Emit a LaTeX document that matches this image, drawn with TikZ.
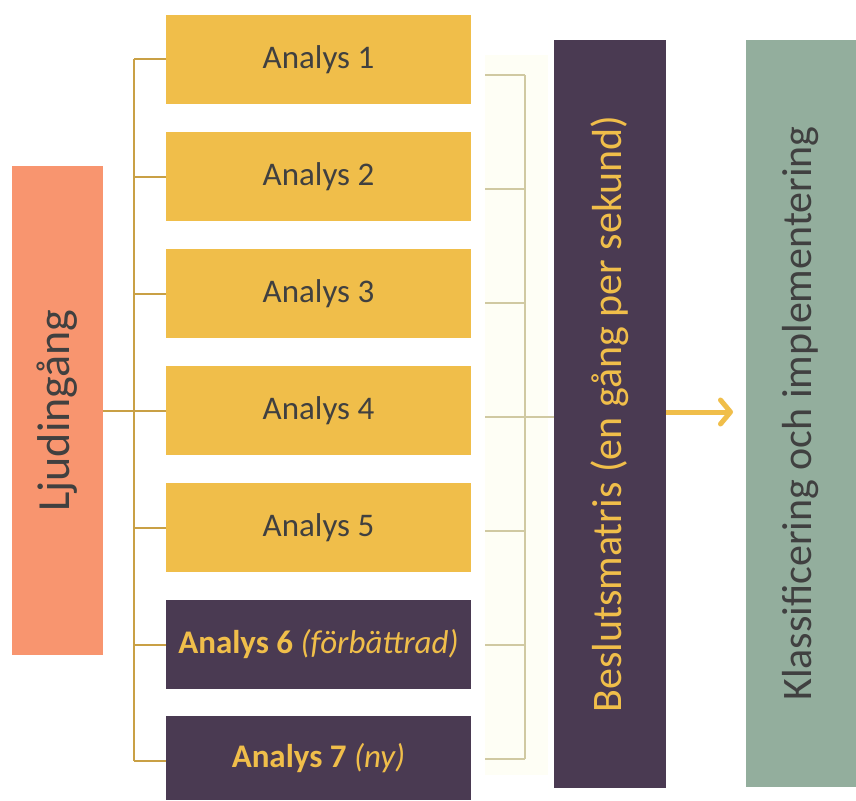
\documentclass[tikz,border=0pt]{standalone}
\usepackage{fontspec}
\setmainfont{Carlito}
\usetikzlibrary{arrows.meta}
\definecolor{yel}{HTML}{F0BE4A}
\definecolor{pur}{HTML}{4A3A52}
\definecolor{sal}{HTML}{F8956F}
\definecolor{sage}{HTML}{93AE9D}
\definecolor{txt}{HTML}{404040}
\definecolor{brk}{HTML}{C9A045}
\definecolor{faint}{HTML}{D0C9A2}
\definecolor{glow}{HTML}{FEFEF5}
\begin{document}
\begin{tikzpicture}[x=1pt,y=-1pt,
  box/.style={draw=none,inner sep=0pt,outer sep=0pt,minimum width=305pt,minimum height=89pt},
  ybox/.style={box,fill=yel,text=txt,font=\fontsize{33}{38}\selectfont},
  pbox/.style={box,fill=pur,text=yel,font=\bfseries\fontsize{33}{38}\selectfont},
  vbox/.style={draw=none,inner sep=0pt,outer sep=0pt,rotate=90},
  bracket/.style={draw=brk,line width=2pt},
  fbracket/.style={draw=faint,line width=2pt},
  arr/.style={draw=yel,line width=5pt,-{Straight Barb[length=10pt,width=24pt,line cap=round,line join=round]}}
]
\useasboundingbox (0,0) rectangle (856,800);
\fill[white] (0,0) rectangle (856,800);

% faint glow behind right bracket
\fill[glow] (485,55) rectangle (548,775);

% left column
\node[vbox,fill=sal,text=txt,minimum width=489pt,minimum height=91pt,
      font=\fontsize{46}{50}\selectfont] (ljud) at (57.5,410.5) {Ljudingång};

% analysis boxes
\node[ybox] (a1) at (318.5,59.5) {Analys 1};
\node[ybox] (a2) at (318.5,176.5) {Analys 2};
\node[ybox] (a3) at (318.5,293.5) {Analys 3};
\node[ybox] (a4) at (318.5,410.5) {Analys 4};
\node[ybox] (a5) at (318.5,527.5) {Analys 5};
\node[pbox] (a6) at (318.5,644.5) {Analys 6 \mdseries\itshape (förbättrad)};
\node[pbox,minimum height=84pt] (a7) at (318.5,758) {Analys 7 \mdseries\itshape (ny)};

% decision matrix and classification
\node[vbox,fill=pur,text=yel,minimum width=747pt,minimum height=112pt,
      font=\fontsize{42}{46}\selectfont] (beslut) at (610,414) {Beslutsmatris (en gång per sekund)};
\node[vbox,fill=sage,text=txt,minimum width=747pt,minimum height=110pt,
      font=\fontsize{42}{46}\selectfont] (klass) at (801,413.5) {Klassificering och implementering};

% left bracket
\coordinate (lt) at (134,59.5);
\coordinate (lb) at (134,761);
\draw[bracket] (lt) -- (lb);
\draw[bracket] (ljud.south) -- (ljud.south -| lt);
\foreach \i in {1,...,6} {\draw[bracket] (a\i.west) -- (a\i.west -| lt);}
\draw[bracket] (lb) -- (lb -| a7.west);

% right faint bracket
\coordinate (rt) at (525,75);
\coordinate (rb) at (525,759);
\coordinate (rm) at (525,417);
\draw[fbracket] (rt) -- (rb);
\foreach \y in {75,189,303,417,531,645,759} {\draw[fbracket] (485,\y) -- (525,\y);}
\draw[fbracket] (rm) -- (rm -| beslut.north);

% arrow
\coordinate (arrend) at (733,412);
\draw[arr] (beslut.south |- arrend) -- (arrend);
\end{tikzpicture}
\end{document}
